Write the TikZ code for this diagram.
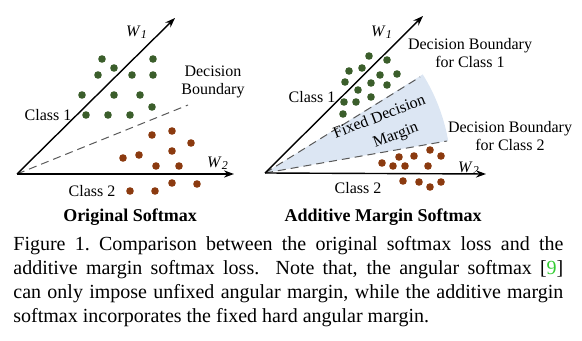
\documentclass[tikz,border=0pt]{standalone}
\usepackage{fontspec}
\setmainfont{Liberation Serif}
\usepackage{xcolor}
\usetikzlibrary{arrows.meta}

\definecolor{clsgreen}{HTML}{3B5E2B}
\definecolor{clsbrown}{HTML}{8B3A0F}
\definecolor{marginblue}{HTML}{DCE6F3}
\definecolor{citegreen}{HTML}{33CC33}

\newcommand{\wvec}[1]{\textit{W}\textsubscript{\textit{#1}}}

\begin{document}
\begin{tikzpicture}[
        x=0.5pt, y=-0.5pt,
        axis/.style={line width=0.7pt,-{Stealth[length=5pt,width=3.6pt]}},
        boundary/.style={gray!70!black,line width=0.5pt,dash pattern=on 4pt off 2.5pt},
        lbl/.style={font=\fontsize{8}{8.6}\selectfont,inner sep=0pt,align=center},
        title/.style={font=\fontsize{9}{10}\selectfont\bfseries,inner sep=0pt},
        dotA/.style={fill=clsgreen},
        dotB/.style={fill=clsbrown}
    ]
    \useasboundingbox (0,0) rectangle (582,341);

    % original softmax
    \coordinate (o1) at (17,174);
    \coordinate (w1l) at (175,18);
    \coordinate (w2l) at (234,174);
    \coordinate (db) at (188,105);
    \foreach \p in {(102,59),(153,59),(98,75),(114,68),(132,75),(153,75),(82,95),
            (114,95),(140,95),(152,107),(86,115),(108,115),(130,115)}
        \fill[dotA] \p circle (1.9pt);
    \foreach \p in {(172,131),(152,135),(191,143),(172,151),(139,155),(123,158),
            (156,166),(179,166),(172,183),(197,184),(130,191),(155,191)}
        \fill[dotB] \p circle (1.9pt);
    \draw[boundary] (o1) -- (db);
    \draw[axis] (o1) -- (w1l);
    \draw[axis] (o1) -- (w2l);
    \node[lbl] (lw1) at (137,32) {\wvec{1}};
    \node[lbl] (lw2) at (218,163) {\wvec{2}};
    \node[lbl] (ldb) at (213,82) {Decision\\Boundary};
    \node[lbl] (lc1) at (48,115) {Class 1};
    \node[lbl] (lc2) at (92,191) {Class 2};
    \node[title] (lt) at (130,217) {Original Softmax};

    % additive margin softmax
    \coordinate (o2) at (265,173);
    \coordinate (w1r) at (423,16);
    \coordinate (w2r) at (486,174);
    \coordinate (db1) at (420,77);
    \coordinate (db2) at (447,141);
    \fill[marginblue] (o2) -- ([shift={(10:93pt)}]o2) arc[start angle=10,end angle=32,radius=93pt] -- cycle;
    \foreach \p in {(369,56),(387,60),(349,71),(362,68),(380,75),(397,74),(345,82),
            (358,90),(371,83),(387,85),(344,102),(356,102),(371,97),(343,114)}
        \fill[dotA] \p circle (1.9pt);
    \foreach \p in {(430,150),(414,156),(399,157),(441,156),(382,163),(393,166),
            (405,166),(428,166),(403,181),(419,182),(430,187),(441,182)}
        \fill[dotB] \p circle (1.9pt);
    \draw[boundary] (o2) -- (db1);
    \draw[boundary] (o2) -- (db2);
    \draw[axis] (o2) -- (w1r);
    \draw[axis] (o2) -- (w2r);
    \node[lbl] (rw1) at (382,32) {\wvec{1}};
    \node[lbl] (rw2) at (469,168) {\wvec{2}};
    \node[lbl] (rdb1) at (470,53) {Decision Boundary\\for Class 1};
    \node[lbl] (rdb2) at (510,136) {Decision Boundary\\for Class 2};
    \node[lbl,rotate=21] (rfix) at (379,116) {Fixed Decision};
    \node[lbl,rotate=21] (rmar) at (396,136) {Margin};
    \node[lbl] (rc1) at (312,97) {Class 1};
    \node[lbl] (rc2) at (358,188) {Class 2};
    \node[title] (rt) at (383,217) {Additive Margin Softmax};

    % caption
    \node[anchor=north west,inner sep=0pt,text width=275pt,align=justify,
          font=\fontsize{10}{12}\selectfont] (cap) at (13,236)
        {Figure 1.\ Comparison between the original softmax loss and the\linebreak
         additive margin softmax loss. Note that, the angular softmax [{\color{citegreen}9}]\linebreak
         can only impose unfixed angular margin, while the additive margin\linebreak
         softmax incorporates the fixed hard angular margin.};
\end{tikzpicture}
\end{document}
